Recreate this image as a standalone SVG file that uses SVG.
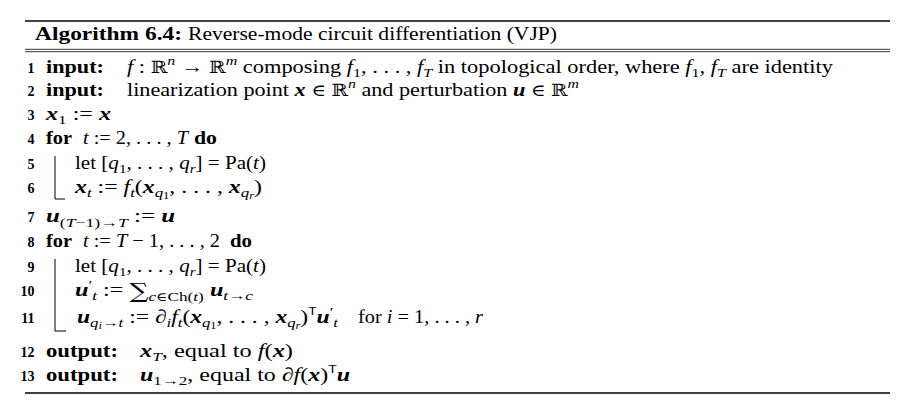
<svg xmlns="http://www.w3.org/2000/svg" width="922" height="414" viewBox="0 0 922 414">
<style>
text { font-family: "Liberation Serif", "DejaVu Serif", serif; font-size: 19px; fill: #000; }
.b { font-weight: bold; }
.i { font-style: italic; }
.v { font-weight: bold; font-style: italic; }
.sub { font-size: 13.5px; }
.ss { font-size: 10px; }
.ds { font-family: "DejaVu Serif", serif; font-size: 17px; font-style: normal; font-weight: normal; }
.sum { font-family: "DejaVu Serif", serif; font-size: 21px; }
.n { font-weight: bold; font-size: 14px; text-anchor: end; }
.sf { font-family: "Liberation Sans", sans-serif; font-size: 11px; font-style: normal; font-weight: normal; }
.rule { stroke: #000; fill: none; }
.bar { stroke: #000; stroke-width: 1; fill: none; }
</style>
<rect width="922" height="414" fill="#fff"/>
<g id="rules">
  <line class="rule" x1="25" y1="21" x2="890" y2="21" stroke-width="1.6"/>
  <line class="rule" x1="25" y1="49.3" x2="890" y2="49.3" stroke-width="0.8"/>
  <line class="rule" x1="25" y1="51.7" x2="890" y2="51.7" stroke-width="0.8"/>
  <line class="rule" x1="25" y1="393" x2="890" y2="393" stroke-width="1.6"/>
</g>
<g id="title">
  <text class="b" x="35" y="40" textLength="147" lengthAdjust="spacingAndGlyphs">Algorithm 6.4:</text>
  <text x="188" y="40" textLength="369" lengthAdjust="spacingAndGlyphs">Reverse-mode circuit differentiation (VJP)</text>
</g>
<g id="blocks">
  <path class="bar" d="M55,156 V199 H65"/>
  <path class="bar" d="M55,259 V331 H66"/>
</g>
<g id="line1">
  <text class="n" x="34.5" y="73">1</text>
  <text class="b" x="46" y="73" textLength="58" lengthAdjust="spacingAndGlyphs">input:</text>
  <text x="127" y="73" textLength="706" lengthAdjust="spacingAndGlyphs"><tspan class="i">f</tspan> : <tspan class="ds">ℝ</tspan><tspan class="i sub" dy="-8">n</tspan><tspan dy="8"> → </tspan><tspan class="ds">ℝ</tspan><tspan class="i sub" dy="-8">m</tspan><tspan dy="8"> composing </tspan><tspan class="i">f</tspan><tspan class="sub" dy="4">1</tspan><tspan dy="-4">, . . . , </tspan><tspan class="i">f</tspan><tspan class="i sub" dy="4">T</tspan><tspan dy="-4"> in topological order, where </tspan><tspan class="i">f</tspan><tspan class="sub" dy="4">1</tspan><tspan dy="-4">, </tspan><tspan class="i">f</tspan><tspan class="i sub" dy="4">T</tspan><tspan dy="-4"> are identity</tspan></text>
</g>
<g id="line2">
  <text class="n" x="34.5" y="96">2</text>
  <text class="b" x="46" y="96" textLength="58" lengthAdjust="spacingAndGlyphs">input:</text>
  <text x="127" y="96" textLength="452" lengthAdjust="spacingAndGlyphs">linearization point <tspan class="v">x</tspan> <tspan class="ds">∈</tspan> <tspan class="ds">ℝ</tspan><tspan class="i sub" dy="-8">n</tspan><tspan dy="8"> and perturbation </tspan><tspan class="v">u</tspan> <tspan class="ds">∈</tspan> <tspan class="ds">ℝ</tspan><tspan class="i sub" dy="-8">m</tspan></text>
</g>
<g id="line3">
  <text class="n" x="34.5" y="120">3</text>
  <text x="46" y="120" textLength="65" lengthAdjust="spacingAndGlyphs"><tspan class="v">x</tspan><tspan class="sub" dy="4">1</tspan><tspan dy="-4"> := </tspan><tspan class="v">x</tspan></text>
</g>
<g id="line4">
  <text class="n" x="34.5" y="144">4</text>
  <text class="b" x="46" y="144" textLength="26" lengthAdjust="spacingAndGlyphs">for</text>
  <text x="83" y="144" textLength="105" lengthAdjust="spacingAndGlyphs"><tspan class="i">t</tspan> := 2, . . . , <tspan class="i">T</tspan></text>
  <text class="b" x="194" y="144" textLength="23" lengthAdjust="spacingAndGlyphs">do</text>
</g>
<g id="line5">
  <text class="n" x="34.5" y="169">5</text>
  <text x="75" y="169" textLength="191" lengthAdjust="spacingAndGlyphs">let [<tspan class="i">q</tspan><tspan class="sub" dy="4">1</tspan><tspan dy="-4">, . . . , </tspan><tspan class="i">q</tspan><tspan class="i sub" dy="4">r</tspan><tspan dy="-4">] = Pa(</tspan><tspan class="i">t</tspan>)</text>
</g>
<g id="line6">
  <text class="n" x="34.5" y="193">6</text>
  <text x="75" y="193" textLength="187" lengthAdjust="spacingAndGlyphs"><tspan class="v">x</tspan><tspan class="i sub" dy="4">t</tspan><tspan dy="-4"> := </tspan><tspan class="i">f</tspan><tspan class="i sub" dy="4">t</tspan><tspan dy="-4">(</tspan><tspan class="v">x</tspan><tspan class="i sub" dy="4">q</tspan><tspan class="ss" dy="2">1</tspan><tspan dy="-6">, . . . , </tspan><tspan class="v">x</tspan><tspan class="i sub" dy="4">q</tspan><tspan class="i ss" dy="2">r</tspan><tspan dy="-6">)</tspan></text>
</g>
<g id="line7">
  <text class="n" x="34.5" y="222">7</text>
  <text x="46" y="222" textLength="129" lengthAdjust="spacingAndGlyphs"><tspan class="v">u</tspan><tspan class="sub" dy="5">(<tspan class="i">T</tspan>−1)→<tspan class="i">T</tspan></tspan><tspan dy="-5"> := </tspan><tspan class="v">u</tspan></text>
</g>
<g id="line8">
  <text class="n" x="34.5" y="247">8</text>
  <text class="b" x="46" y="247" textLength="26" lengthAdjust="spacingAndGlyphs">for</text>
  <text x="83" y="247" textLength="137" lengthAdjust="spacingAndGlyphs"><tspan class="i">t</tspan> := <tspan class="i">T</tspan> − 1, . . . , 2</text>
  <text class="b" x="230" y="247" textLength="22" lengthAdjust="spacingAndGlyphs">do</text>
</g>
<g id="line9">
  <text class="n" x="34.5" y="272">9</text>
  <text x="75" y="272" textLength="191" lengthAdjust="spacingAndGlyphs">let [<tspan class="i">q</tspan><tspan class="sub" dy="4">1</tspan><tspan dy="-4">, . . . , </tspan><tspan class="i">q</tspan><tspan class="i sub" dy="4">r</tspan><tspan dy="-4">] = Pa(</tspan><tspan class="i">t</tspan>)</text>
</g>
<g id="line10">
  <text class="n" x="34.5" y="296">10</text>
  <text x="75" y="296" textLength="178" lengthAdjust="spacingAndGlyphs"><tspan class="v">u</tspan><tspan class="sub" dy="-7">′</tspan><tspan class="i sub" dy="11">t</tspan><tspan dy="-4"> := </tspan><tspan class="sum" dy="2">∑</tspan><tspan class="sub" dy="3"><tspan class="i">c</tspan><tspan class="ds" style="font-size:12px">∈</tspan>Ch(<tspan class="i">t</tspan>)</tspan><tspan dy="-5"> </tspan><tspan class="v">u</tspan><tspan class="sub" dy="4"><tspan class="i">t</tspan>→<tspan class="i">c</tspan></tspan></text>
</g>
<g id="line11">
  <text class="n" x="34.5" y="323">11</text>
  <text x="77" y="323" textLength="261" lengthAdjust="spacingAndGlyphs"><tspan class="v">u</tspan><tspan class="sub" dy="4"><tspan class="i">q</tspan><tspan class="i ss" dy="2">i</tspan><tspan dy="-2">→</tspan><tspan class="i">t</tspan></tspan><tspan dy="-4"> := </tspan><tspan class="i">∂</tspan><tspan class="i sub" dy="4">i</tspan><tspan class="i" dy="-4">f</tspan><tspan class="i sub" dy="4">t</tspan><tspan dy="-4">(</tspan><tspan class="v">x</tspan><tspan class="i sub" dy="4">q</tspan><tspan class="ss" dy="2">1</tspan><tspan dy="-6">, . . . , </tspan><tspan class="v">x</tspan><tspan class="i sub" dy="4">q</tspan><tspan class="i ss" dy="2">r</tspan><tspan dy="-6">)</tspan><tspan class="sf" dy="-8">T</tspan><tspan class="v" dy="8">u</tspan><tspan class="sub" dy="-7">′</tspan><tspan class="i sub" dy="11">t</tspan></text>
  <text x="358" y="323" textLength="125" lengthAdjust="spacingAndGlyphs">for <tspan class="i">i</tspan> = 1, . . . , <tspan class="i">r</tspan></text>
</g>
<g id="line12">
  <text class="n" x="34.5" y="357">12</text>
  <text class="b" x="46" y="357" textLength="72" lengthAdjust="spacingAndGlyphs">output:</text>
  <text x="140" y="357" textLength="153" lengthAdjust="spacingAndGlyphs"><tspan class="v">x</tspan><tspan class="i sub" dy="4">T</tspan><tspan dy="-4">, equal to </tspan><tspan class="i">f</tspan>(<tspan class="v">x</tspan>)</text>
</g>
<g id="line13">
  <text class="n" x="34.5" y="381">13</text>
  <text class="b" x="46" y="381" textLength="72" lengthAdjust="spacingAndGlyphs">output:</text>
  <text x="140" y="381" textLength="210" lengthAdjust="spacingAndGlyphs"><tspan class="v">u</tspan><tspan class="sub" dy="4">1→2</tspan><tspan dy="-4">, equal to </tspan><tspan class="i">∂f</tspan>(<tspan class="v">x</tspan>)<tspan class="sf" dy="-8">T</tspan><tspan class="v" dy="8">u</tspan></text>
</g>
</svg>
